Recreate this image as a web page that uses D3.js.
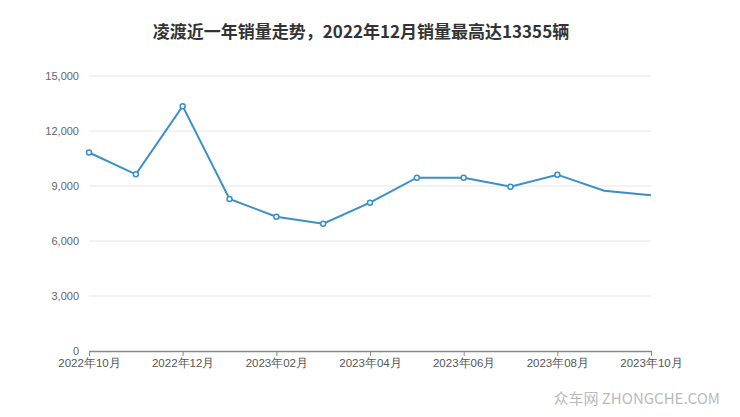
<!DOCTYPE html>
<html><head><meta charset="utf-8">
<script src="https://cdn.jsdelivr.net/npm/d3@7"></script>
<style>body{margin:0;background:#fff;font-family:"Noto Sans CJK SC","Noto Sans",sans-serif;}</style>
</head><body>
<svg id="c" width="740" height="417"></svg>
<script>
const months = ["2022年10月","2022年11月","2022年12月","2023年01月","2023年02月","2023年03月","2023年04月","2023年05月","2023年06月","2023年07月","2023年08月","2023年09月","2023年10月"];
const sales = [10827, 9638, 13355, 8291, 7327, 6945, 8091, 9455, 9450, 8964, 9618, 8745, 8491];
const markerShown = [1,1,1,1,1,1,1,1,1,1,1,0,0];
const yTicks = [0, 3000, 6000, 9000, 12000, 15000];
const xTickLabels = ["2022年10月","2022年12月","2023年02月","2023年04月","2023年06月","2023年08月","2023年10月"];

const svg = d3.select("#c");
const m = {left: 89, right: 651, top: 76, bottom: 351};
const x = d3.scalePoint().domain(months).range([m.left, m.right]);
const y = d3.scaleLinear().domain([0, 15000]).range([m.bottom, m.top]);

svg.append("text").attr("x", 361).attr("y", 38).attr("text-anchor", "middle")
  .attr("font-size", 17).attr("font-weight", "bold").attr("fill", "#333").text("凌渡近一年销量走势，2022年12月销量最高达13355辆");

// grid
svg.append("g").selectAll("line").data(yTicks.filter(d => d > 0)).join("line")
  .attr("x1", m.left).attr("x2", m.right).attr("y1", d => y(d)).attr("y2", d => y(d))
  .attr("stroke", "#e6e6e6").attr("stroke-width", 1);

// y axis labels
const yAxis = svg.append("g").attr("transform", `translate(${m.left},0)`)
  .call(d3.axisLeft(y).tickValues(yTicks).tickFormat(d3.format(",")).tickSize(0).tickPadding(10));
yAxis.select(".domain").remove();
yAxis.selectAll("text").attr("font-size", 11).attr("fill", "#666").attr("font-family", "'Liberation Sans','DejaVu Sans',sans-serif");

// x axis
const xAxis = svg.append("g").attr("transform", `translate(0,${m.bottom})`)
  .call(d3.axisBottom(x).tickValues(xTickLabels).tickSize(5).tickSizeOuter(0).tickPadding(3));
xAxis.select(".domain").attr("stroke", "#888").attr("stroke-width", 1.5);
xAxis.selectAll(".tick line").attr("stroke", "#888");
xAxis.selectAll("text").attr("font-size", 11.5).attr("fill", "#555");

// line
const line = d3.line().x((d, i) => x(months[i])).y(d => y(d));
svg.append("path").datum(sales).attr("d", line).attr("fill", "none")
  .attr("stroke", "#3a8fc8").attr("stroke-width", 2);

svg.append("g").selectAll("circle").data(sales.map((v, i) => ({v, i})).filter(d => markerShown[d.i])).join("circle")
  .attr("cx", d => x(months[d.i])).attr("cy", d => y(d.v)).attr("r", 2.5)
  .attr("fill", "#fff").attr("stroke", "#3a8fc8").attr("stroke-width", 1.5);

// watermark
svg.append("text").attr("x", 720).attr("y", 404).attr("text-anchor", "end")
  .attr("font-size", 15).attr("fill", "#bbb").text("众车网 ZHONGCHE.COM");
</script>
</body></html>
